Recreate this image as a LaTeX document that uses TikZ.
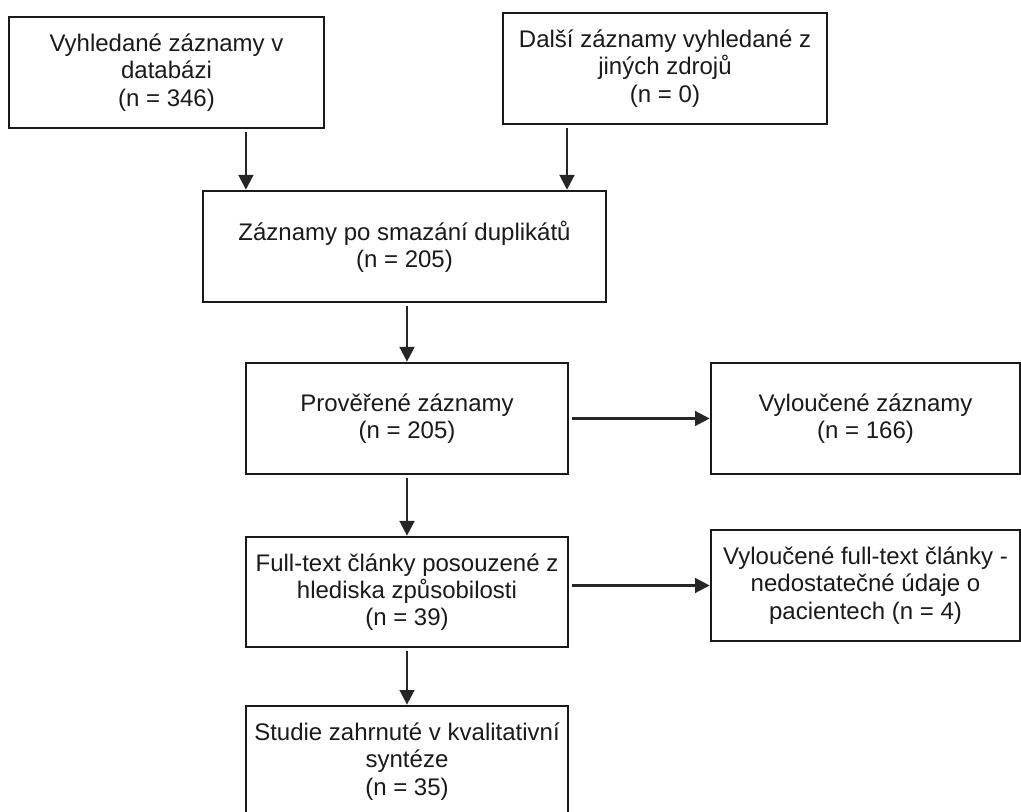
\documentclass[tikz,border=0pt]{standalone}
\usepackage{fontspec}
\setmainfont{Liberation Sans}
\usepackage{tikz}
\usetikzlibrary{arrows.meta,positioning,calc}
\definecolor{ink}{HTML}{1A1A1A}
\definecolor{arrgray}{HTML}{262626}
\tikzset{
  recbox/.style={draw=ink,fill=white,line width=2pt,
                 inner sep=0pt,align=center,text=ink,
                 font=\fontsize{18}{20.5}\selectfont,
                 minimum height=83.25pt},
  recarr/.style={-{Triangle[length=11pt,width=11pt]},line width=1.8pt,
                 color=arrgray,shorten <=2pt}
}

\begin{document}
\begin{tikzpicture}[x=0.75pt,y=-0.75pt]
  \path[use as bounding box,fill=white] (0,0) rectangle (1021,812);
  % identification
  \node[recbox,minimum width=236.25pt] (dbrec) at (166.5,72.5)
    {Vyhledané záznamy v\\databázi\\(n = 346)};
  \node[recbox,minimum width=243pt] (otherrec) at (665,68.5)
    {Další záznamy vyhledané z\\jiných zdrojů\\(n = 0)};
  \node[recbox,minimum width=302.25pt] (dedup) at (404.5,246.5)
    {Záznamy po smazání duplikátů\\(n = 205)};
  % screening
  \node[recbox,minimum width=241.5pt] (screen) at (407,418.5)
    {Prověřené záznamy\\(n = 205)};
  \node[recbox,minimum width=231.75pt] (excl) at (865.5,418.5)
    {Vyloučené záznamy\\(n = 166)};
  \node[recbox,minimum width=241.5pt,minimum height=82.5pt] (fulltext) at (407,592)
    {Full-text články posouzené z\\hlediska způsobilosti\\(n = 39)};
  \node[recbox,minimum width=231.75pt] (ftexcl) at (865.5,585.5)
    {Vyloučené full-text články -\\nedostatečné údaje o\\pacientech (n = 4)};
  \node[recbox,minimum width=241.5pt] (incl) at (407,761.5)
    {Studie zahrnuté v kvalitativní\\syntéze\\(n = 35)};
  % connectors
  \coordinate (dbout) at ($(dbrec.south west)!0.75!(dbrec.south east)$);
  \coordinate (otherout) at ($(otherrec.south west)!0.2!(otherrec.south east)$);
  \draw[recarr] (dbout) -- (dbout |- dedup.north);
  \draw[recarr] (otherout) -- (otherout |- dedup.north);
  \draw[recarr] (screen.north |- dedup.south) -- (screen.north);
  \draw[recarr] (screen) -- (excl);
  \draw[recarr] (screen) -- (fulltext);
  \draw[recarr] (fulltext.east |- ftexcl.west) -- (ftexcl.west);
  \draw[recarr] (fulltext) -- (incl);
\end{tikzpicture}
\end{document}
